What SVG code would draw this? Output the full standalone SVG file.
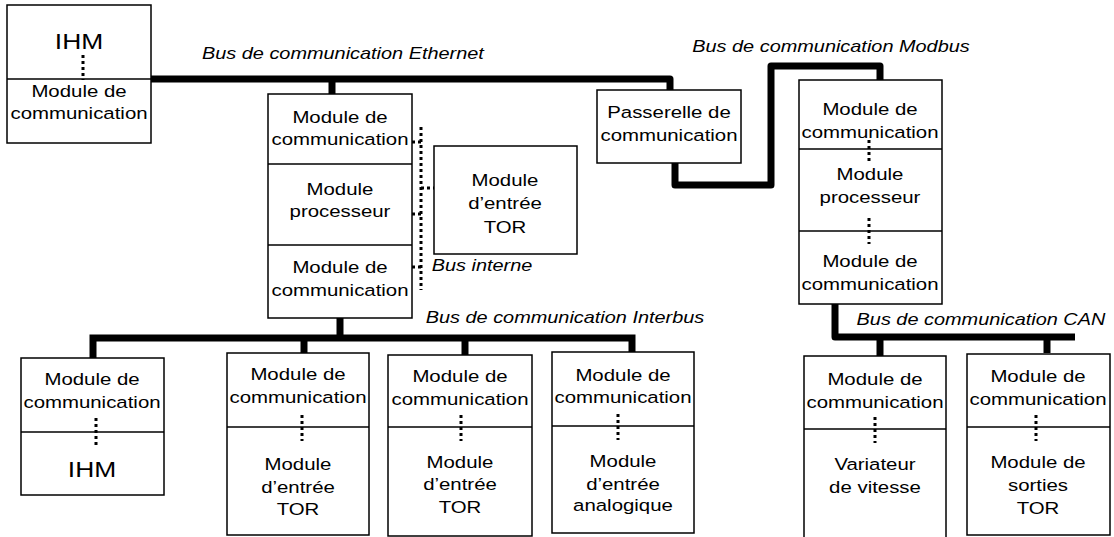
<svg xmlns="http://www.w3.org/2000/svg" width="1114" height="537" viewBox="0 0 1114 537">
<style>
.box{fill:#fff;stroke:#000;stroke-width:1.5}
.div{stroke:#000;stroke-width:1.5}
.bus{fill:none;stroke:#000;stroke-width:7;stroke-linejoin:round}
.dot{fill:none;stroke:#000;stroke-width:3;stroke-dasharray:3 3}
text{font-family:"Liberation Sans",Arial,sans-serif;font-size:17px;text-anchor:middle;fill:#000;transform-box:fill-box;transform-origin:center;transform:scaleX(1.2)}
.big{font-size:22px}
.lab{font-style:italic;transform:scaleX(1.17)}
</style>
<rect width="1114" height="537" fill="#fff"/>
<g id="connectors">
<path class="bus" d="M151 79 H670 V90"/>
<path class="bus" d="M332 79 V94"/>
<path class="bus" d="M675 163 V185 H771 V66 H880 V80"/>
<path class="bus" d="M340 318 V338"/>
<path class="bus" d="M93 358 V338 H632 V352" style="stroke-linejoin:miter"/>
<path class="bus" d="M304 338 V353"/>
<path class="bus" d="M465 338 V355"/>
<path class="bus" d="M835 304 V337 H1075"/>
<path class="bus" d="M880 337 V356"/>
<path class="bus" d="M1047 337 V353"/>
<path class="dot" d="M421 127 V290"/>
<path class="dot" d="M412 142 H421 M412 214 H421 M412 267 H421 M421 188 H434"/>
</g>
<g id="labels">
<text class="lab" x="343" y="59">Bus de communication Ethernet</text>
<text class="lab" x="831" y="52">Bus de communication Modbus</text>
<text class="lab" x="565" y="323">Bus de communication Interbus</text>
<text class="lab" x="981" y="325">Bus de communication CAN</text>
<text class="lab" x="482" y="271">Bus interne</text>
</g>
<g id="n-ihm-top">
<rect class="box" x="7" y="5" width="144" height="138"/>
<line class="div" x1="7" y1="79" x2="151" y2="79"/>
<path class="dot" d="M83 55 V80"/>
<text class="big" x="79" y="49">IHM</text>
<text x="79" y="97">Module de</text>
<text x="79" y="119">communication</text>
</g>
<g id="n-automate">
<rect class="box" x="268" y="94" width="144" height="224"/>
<line class="div" x1="268" y1="164" x2="412" y2="164"/>
<line class="div" x1="268" y1="245" x2="412" y2="245"/>
<text x="340" y="123">Module de</text>
<text x="340" y="145">communication</text>
<text x="340" y="195">Module</text>
<text x="340" y="217">processeur</text>
<text x="340" y="273">Module de</text>
<text x="340" y="296">communication</text>
</g>
<g id="n-tor">
<rect class="box" x="434" y="146" width="143" height="108"/>
<text x="505" y="186">Module</text>
<text x="505" y="209">d’entrée</text>
<text x="505" y="233">TOR</text>
</g>
<g id="n-passerelle">
<rect class="box" x="597" y="90" width="144" height="73"/>
<text x="669" y="118">Passerelle de</text>
<text x="669" y="141">communication</text>
</g>
<g id="n-automate2">
<rect class="box" x="799" y="80" width="143" height="224"/>
<line class="div" x1="799" y1="149" x2="942" y2="149"/>
<line class="div" x1="799" y1="231" x2="942" y2="231"/>
<path class="dot" d="M869 140 V161 M869 218 V244"/>
<text x="870" y="115">Module de</text>
<text x="870" y="138">communication</text>
<text x="870" y="180">Module</text>
<text x="870" y="203">processeur</text>
<text x="870" y="267">Module de</text>
<text x="870" y="290">communication</text>
</g>
<g id="n-ihm-bas">
<rect class="box" x="21" y="358" width="143" height="137"/>
<line class="div" x1="21" y1="432" x2="164" y2="432"/>
<path class="dot" d="M96 418 V446"/>
<text x="92" y="385">Module de</text>
<text x="92" y="408">communication</text>
<text class="big" x="92" y="477">IHM</text>
</g>
<g id="n-tor1">
<rect class="box" x="227" y="353" width="142" height="182"/>
<line class="div" x1="227" y1="427" x2="369" y2="427"/>
<path class="dot" d="M302 415 V441"/>
<text x="298" y="380">Module de</text>
<text x="298" y="403">communication</text>
<text x="298" y="470">Module</text>
<text x="298" y="493">d’entrée</text>
<text x="298" y="515">TOR</text>
</g>
<g id="n-tor2">
<rect class="box" x="388" y="355" width="144" height="181"/>
<line class="div" x1="388" y1="427" x2="532" y2="427"/>
<path class="dot" d="M461 415 V441"/>
<text x="460" y="382">Module de</text>
<text x="460" y="405">communication</text>
<text x="460" y="468">Module</text>
<text x="460" y="490">d’entrée</text>
<text x="460" y="513">TOR</text>
</g>
<g id="n-analog">
<rect class="box" x="552" y="352" width="142" height="181"/>
<line class="div" x1="552" y1="426" x2="694" y2="426"/>
<path class="dot" d="M618 414 V440"/>
<text x="623" y="381">Module de</text>
<text x="623" y="403">communication</text>
<text x="623" y="467">Module</text>
<text x="623" y="490">d’entrée</text>
<text x="623" y="511">analogique</text>
</g>
<g id="n-variateur">
<rect class="box" x="804" y="356" width="142" height="190"/>
<line class="div" x1="804" y1="429" x2="946" y2="429"/>
<path class="dot" d="M875 417 V443"/>
<text x="875" y="385">Module de</text>
<text x="875" y="408">communication</text>
<text x="875" y="470">Variateur</text>
<text x="875" y="493">de vitesse</text>
</g>
<g id="n-sorties">
<rect class="box" x="967" y="354" width="143" height="181"/>
<line class="div" x1="967" y1="427" x2="1110" y2="427"/>
<path class="dot" d="M1036 415 V441"/>
<text x="1038" y="382">Module de</text>
<text x="1038" y="405">communication</text>
<text x="1038" y="468">Module de</text>
<text x="1038" y="491">sorties</text>
<text x="1038" y="514">TOR</text>
</g>
</svg>
